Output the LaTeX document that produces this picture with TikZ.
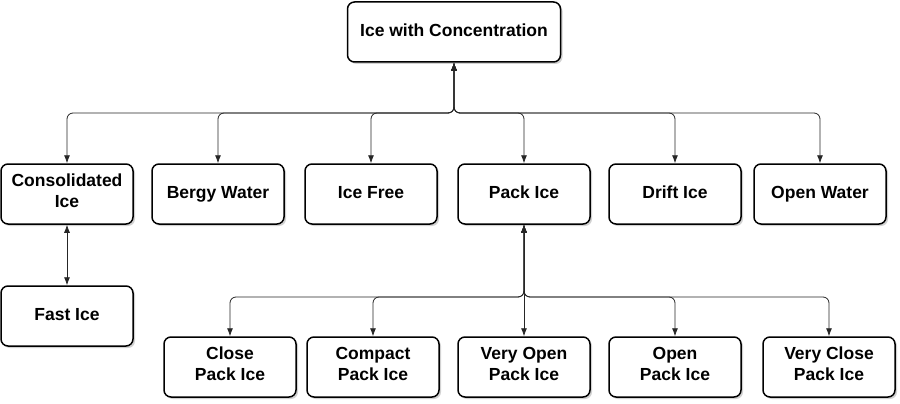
\documentclass[tikz,border=0pt]{standalone}
\usepackage{fontspec}
\setmainfont{Liberation Sans}
\usetikzlibrary{shapes,arrows.meta,positioning,shadows}

\begin{document}
\begin{tikzpicture}[
        x=1pt, y=-1pt,
        icebox/.style={rectangle, draw, line width=1.5pt, rounded corners=7pt, fill=white,
            minimum width=132pt, minimum height=60pt, align=center,
            font=\fontsize{17.5}{21}\selectfont\bfseries,
            execute at begin node=\strut, execute at end node=\strut,
            drop shadow={shadow xshift=2pt, shadow yshift=-2pt, fill=black!35}},
        conn/.style={line width=0.8pt, draw=black!85, {Latex[length=8pt,width=6pt]}-{Latex[length=8pt,width=6pt]}, rounded corners=6pt}
    ]
        \useasboundingbox (0,0) rectangle (900,404);

        % Top
        \node[icebox, minimum width=213pt] (conc) at (454,32) {Ice with Concentration};

        % First level
        \node[icebox] (consol) at (67,194) {Consolidated\\Ice};
        \node[icebox] (bergy) at (218,194) {Bergy Water};
        \node[icebox] (free) at (371,194) {Ice Free};
        \node[icebox] (pack) at (524,194) {Pack Ice};
        \node[icebox] (drift) at (675,194) {Drift Ice};
        \node[icebox] (open) at (820,194) {Open Water};

        % Below consolidated
        \node[icebox] (fast) at (67,316) {Fast Ice};

        % Pack ice classes
        \node[icebox] (close) at (230,367) {Close\\Pack Ice};
        \node[icebox] (compact) at (373,367) {Compact\\Pack Ice};
        \node[icebox] (vopen) at (524,367) {Very Open\\Pack Ice};
        \node[icebox] (openpack) at (675,367) {Open\\Pack Ice};
        \node[icebox] (vclose) at (829,367) {Very Close\\Pack Ice};

        % Junctions
        \coordinate (jconc) at (454,113);
        \coordinate (jpack) at (524,297);

        % Connections
        \draw[conn] (conc.south) -- (jconc) -| (consol.north);
        \draw[conn] (conc.south) -- (jconc) -| (bergy.north);
        \draw[conn] (conc.south) -- (jconc) -| (free.north);
        \draw[conn] (conc.south) -- (jconc) -| (pack.north);
        \draw[conn] (conc.south) -- (jconc) -| (drift.north);
        \draw[conn] (conc.south) -- (jconc) -| (open.north);

        \draw[conn] (consol) -- (fast);

        \draw[conn] (pack.south) -- (jpack) -| (close.north);
        \draw[conn] (pack.south) -- (jpack) -| (compact.north);
        \draw[conn] (pack.south) -- (vopen.north);
        \draw[conn] (pack.south) -- (jpack) -| (openpack.north);
        \draw[conn] (pack.south) -- (jpack) -| (vclose.north);
    \end{tikzpicture}
\end{document}
